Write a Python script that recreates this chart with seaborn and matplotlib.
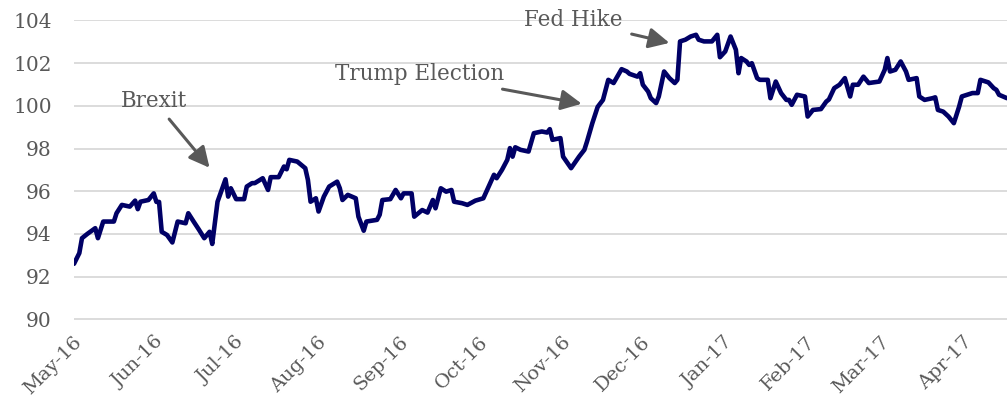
import matplotlib
matplotlib.use("Agg")
import matplotlib.pyplot as plt
import matplotlib.dates as mdates
import matplotlib.transforms as mtransforms
import pandas as pd
import seaborn as sns

# US dollar index, May 2016 - April 2017
dates = [
    "2016-04-29", "2016-05-01", "2016-05-02", "2016-05-04", "2016-05-07", "2016-05-08",
    "2016-05-10", "2016-05-14", "2016-05-15", "2016-05-17", "2016-05-20", "2016-05-22",
    "2016-05-23", "2016-05-24", "2016-05-27", "2016-05-29", "2016-05-30", "2016-05-31",
    "2016-06-01", "2016-06-03", "2016-06-05", "2016-06-07", "2016-06-10", "2016-06-11",
    "2016-06-13", "2016-06-15", "2016-06-17", "2016-06-19", "2016-06-20", "2016-06-22",
    "2016-06-25", "2016-06-26", "2016-06-27", "2016-06-29", "2016-07-02", "2016-07-03",
    "2016-07-05", "2016-07-06", "2016-07-09", "2016-07-11", "2016-07-12", "2016-07-15",
    "2016-07-17", "2016-07-18", "2016-07-19", "2016-07-22", "2016-07-25", "2016-07-26",
    "2016-07-27", "2016-07-29", "2016-07-30", "2016-08-01", "2016-08-03", "2016-08-06",
    "2016-08-07", "2016-08-08", "2016-08-10", "2016-08-13", "2016-08-14", "2016-08-16",
    "2016-08-17", "2016-08-21", "2016-08-22", "2016-08-23", "2016-08-26", "2016-08-28",
    "2016-08-30", "2016-08-31", "2016-09-03", "2016-09-04", "2016-09-07", "2016-09-09",
    "2016-09-11", "2016-09-12", "2016-09-14", "2016-09-16", "2016-09-18", "2016-09-19",
    "2016-09-22", "2016-09-24", "2016-09-27", "2016-09-30", "2016-10-02", "2016-10-04",
    "2016-10-05", "2016-10-07", "2016-10-09", "2016-10-10", "2016-10-11", "2016-10-12",
    "2016-10-14", "2016-10-17", "2016-10-19", "2016-10-22", "2016-10-24", "2016-10-25",
    "2016-10-26", "2016-10-29", "2016-10-30", "2016-11-02", "2016-11-05", "2016-11-07",
    "2016-11-08", "2016-11-10", "2016-11-12", "2016-11-14", "2016-11-16", "2016-11-18",
    "2016-11-21", "2016-11-23", "2016-11-24", "2016-11-27", "2016-11-28", "2016-11-29",
    "2016-12-01", "2016-12-02", "2016-12-04", "2016-12-05", "2016-12-07", "2016-12-09",
    "2016-12-11", "2016-12-12", "2016-12-13", "2016-12-15", "2016-12-17", "2016-12-19",
    "2016-12-20", "2016-12-22", "2016-12-25", "2016-12-27", "2016-12-28", "2016-12-30",
    "2017-01-01", "2017-01-03", "2017-01-04", "2017-01-05", "2017-01-07", "2017-01-08",
    "2017-01-09", "2017-01-11", "2017-01-12", "2017-01-15", "2017-01-16", "2017-01-18",
    "2017-01-20", "2017-01-22", "2017-01-23", "2017-01-24", "2017-01-26", "2017-01-29",
    "2017-01-30", "2017-02-01", "2017-02-04", "2017-02-06", "2017-02-07", "2017-02-09",
    "2017-02-11", "2017-02-13", "2017-02-15", "2017-02-16", "2017-02-18", "2017-02-20",
    "2017-02-22", "2017-02-26", "2017-02-28", "2017-03-01", "2017-03-02", "2017-03-04",
    "2017-03-06", "2017-03-08", "2017-03-09", "2017-03-12", "2017-03-13", "2017-03-15",
    "2017-03-18", "2017-03-19", "2017-03-20", "2017-03-22", "2017-03-24", "2017-03-26",
    "2017-03-28", "2017-03-29", "2017-03-31", "2017-04-02", "2017-04-04", "2017-04-05",
    "2017-04-08", "2017-04-10", "2017-04-11", "2017-04-12", "2017-04-15",
]
index_values = [
    92.60, 93.10, 93.80, 94.00, 94.27, 93.80,
    94.58, 94.58, 94.97, 95.36, 95.28, 95.56,
    95.16, 95.51, 95.59, 95.90, 95.50, 95.50,
    94.10, 93.95, 93.60, 94.58, 94.50, 94.97,
    94.58, 94.20, 93.80, 94.10, 93.53, 95.51,
    96.56, 95.75, 96.14, 95.63, 95.63, 96.22,
    96.38, 96.38, 96.61, 96.06, 96.66, 96.66,
    97.16, 97.03, 97.47, 97.39, 97.08, 96.53,
    95.51, 95.67, 95.05, 95.75, 96.22, 96.45,
    96.14, 95.59, 95.83, 95.67, 94.81, 94.15,
    94.58, 94.66, 94.90, 95.59, 95.63, 96.06,
    95.67, 95.90, 95.90, 94.81, 95.12, 95.00,
    95.59, 95.20, 96.14, 95.98, 96.06, 95.51,
    95.44, 95.36, 95.56, 95.67, 96.22, 96.77,
    96.61, 97.00, 97.47, 98.02, 97.62, 98.06,
    97.94, 97.86, 98.72, 98.80, 98.75, 98.91,
    98.41, 98.49, 97.62, 97.08, 97.62, 97.94,
    98.33, 99.19, 99.95, 100.28, 101.22, 101.07,
    101.72, 101.61, 101.50, 101.37, 101.53, 100.99,
    100.67, 100.36, 100.13, 100.44, 101.61, 101.30,
    101.07, 101.22, 103.02, 103.10, 103.25, 103.33,
    103.10, 103.02, 103.02, 103.33, 102.28, 102.55,
    103.25, 102.63, 101.53, 102.24, 102.08, 101.92,
    102.00, 101.30, 101.22, 101.22, 100.36, 101.14,
    100.60, 100.28, 100.28, 100.05, 100.52, 100.44,
    99.50, 99.81, 99.85, 100.20, 100.30, 100.83,
    100.99, 101.30, 100.44, 100.99, 100.99, 101.37,
    101.07, 101.14, 101.69, 102.24, 101.61, 101.69,
    102.08, 101.61, 101.22, 101.30, 100.44, 100.28,
    100.36, 100.40, 99.81, 99.73, 99.50, 99.19,
    99.97, 100.44, 100.52, 100.60, 100.60, 101.22,
    101.10, 100.83, 100.75, 100.52, 100.36,
]

# Event call-outs: label, text anchor (date, value), arrow tip (date, value)
event_labels = ["Brexit", "Trump Election", "Fed Hike"]
event_text_pos = [("2016-05-29", 100.25), ("2016-09-06", 101.5), ("2016-11-03", 104.0)]
event_tip_pos = [("2016-06-19", 97.1), ("2016-11-06", 100.1), ("2016-12-09", 102.95)]

y_ticks = [90, 92, 94, 96, 98, 100, 102, 104]

df = pd.DataFrame({"date": pd.to_datetime(dates), "value": index_values})

sns.set_style("white")
plt.rcParams["font.family"] = ["DejaVu Serif"]

text_grey = "#595959"
fig = plt.figure(figsize=(10.07, 4.04), dpi=100)
ax = fig.add_axes([74 / 1007, 1 - 320.5 / 404, 933 / 1007, (320.5 - 19.5) / 404])

sns.lineplot(data=df, x="date", y="value", ax=ax, color="#000066",
             linewidth=3.3, solid_joinstyle="round", zorder=3)

ax.set_ylim(90 - 14 * 1.2 / 299, 104 + 14 * 1.0 / 299)
ax.set_yticks(y_ticks)
ax.set_xlim(pd.Timestamp("2016-04-29"), pd.Timestamp("2017-04-15"))

ax.xaxis.set_major_locator(mdates.MonthLocator())
ax.xaxis.set_major_formatter(mdates.DateFormatter("%b-%y"))

ax.grid(axis="y", color="#d9d9d9", linewidth=1.3, zorder=0)
ax.grid(axis="x", visible=False)
for s in ax.spines.values():
    s.set_visible(False)

ax.tick_params(axis="y", length=0, pad=16, labelsize=14.5, labelcolor=text_grey)
ax.tick_params(axis="x", length=0, pad=9, labelsize=14, labelcolor=text_grey)
# Rotated month labels end just under their tick
shift = mtransforms.ScaledTranslation(-5 / 72, 0, fig.dpi_scale_trans)
for lab in ax.get_xticklabels():
    lab.set_rotation(45)
    lab.set_ha("right")
    lab.set_rotation_mode("anchor")
    lab.set_transform(lab.get_transform() + shift)

ax.set_xlabel("")
ax.set_ylabel("")

for label, (tx, ty), (px, py) in zip(event_labels, event_text_pos, event_tip_pos):
    ax.annotate(label, xy=(pd.Timestamp(px), py), xytext=(pd.Timestamp(tx), ty),
                ha="center", va="center", fontsize=15.5, color=text_grey,
                annotation_clip=False,
                arrowprops=dict(arrowstyle="-|>,head_length=0.8,head_width=0.4",
                                color=text_grey, lw=2.2, shrinkA=4, shrinkB=0))

fig.savefig("out.png", dpi=100)
